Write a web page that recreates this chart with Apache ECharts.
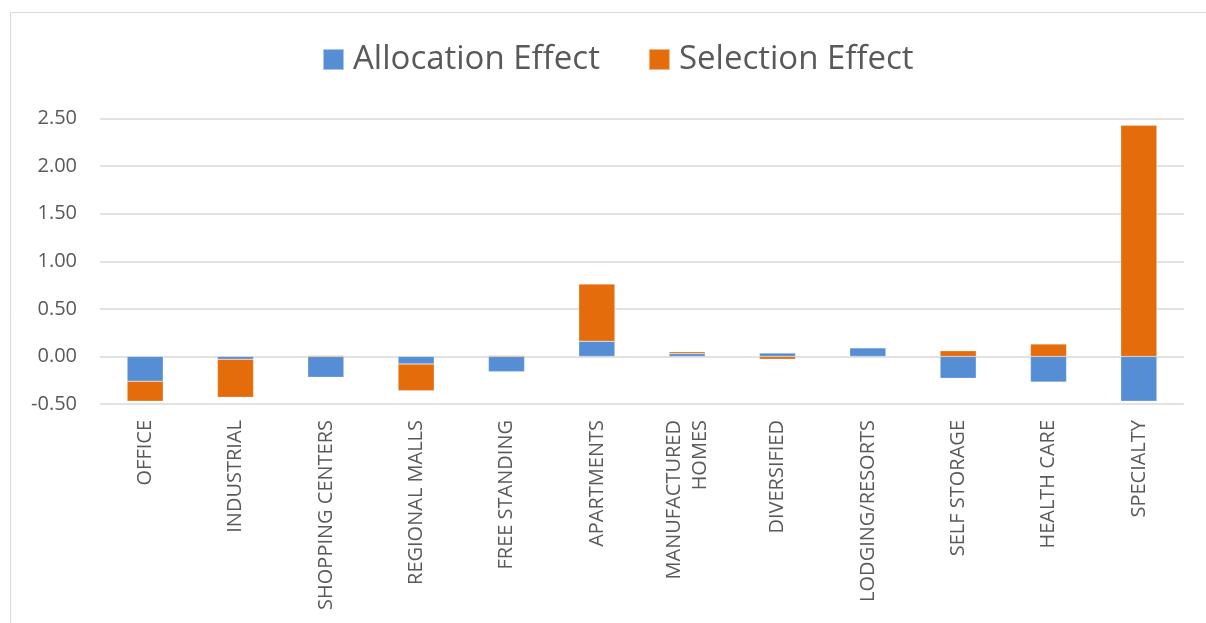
<!DOCTYPE html>
<html>
<head>
<meta charset="utf-8">
<script src="https://cdn.jsdelivr.net/npm/echarts@6/dist/echarts.min.js"></script>
<style>html,body{margin:0;padding:0;background:#fff}#c{width:1206px;height:623px}</style>
</head>
<body>
<div id="c"></div>
<script>
const categories = ['OFFICE','INDUSTRIAL','SHOPPING CENTERS','REGIONAL MALLS','FREE STANDING','APARTMENTS','MANUFACTURED\nHOMES','DIVERSIFIED','LODGING/RESORTS','SELF STORAGE','HEALTH CARE','SPECIALTY'];
const allocationEffect = [-0.26,-0.03,-0.22,-0.08,-0.16,0.16,0.03,0.035,0.09,-0.23,-0.27,-0.47];
const selectionEffect = [-0.21,-0.40,0.01,-0.28,0.01,0.60,0.02,-0.03,0.00,0.06,0.13,2.43];
const seriesNames = ['Allocation Effect','Selection Effect'];

const chart = echarts.init(document.getElementById('c'), null, {renderer:'canvas'});
const txt = '#595959';
const font = "'Open Sans', sans-serif";
chart.setOption({
  animation:false,
  color:['#558ED5','#E46C0A'],
  graphic:[{type:'rect',shape:{x:10.5,y:12.5,width:1300,height:700},style:{fill:'none',stroke:'#D9D9D9',lineWidth:1},silent:true,z:-1}],
  legend:{
    left:322, top:43, padding:0, itemWidth:21, itemHeight:21, itemGap:48,
    icon:'rect',
    textStyle:{color:txt,fontSize:33,fontFamily:font,padding:[0,0,0,4]},
    data:seriesNames
  },
  grid:{left:100,right:22,top:118.5,bottom:219,containLabel:false},
  xAxis:{
    type:'category', data:categories,
    axisLine:{show:false,onZero:false}, axisTick:{show:false},
    axisLabel:{rotate:90,margin:16,color:txt,fontSize:20,fontFamily:font,interval:0,lineHeight:26}
  },
  yAxis:{
    type:'value', min:-0.5, max:2.5, interval:0.5,
    axisLine:{show:false}, axisTick:{show:false},
    splitLine:{lineStyle:{color:'#D9D9D9',width:1.5}},
    axisLabel:{margin:23,color:txt,fontSize:20,fontFamily:font,formatter:v=>v.toFixed(2)}
  },
  series:[
    {name:seriesNames[0],type:'bar',stack:'t',data:allocationEffect,barWidth:'40%',itemStyle:{borderColor:'rgba(255,255,255,0.5)',borderWidth:0.5}},
    {name:seriesNames[1],type:'bar',stack:'t',data:selectionEffect,barWidth:'40%',itemStyle:{borderColor:'rgba(255,255,255,0.5)',borderWidth:0.5}}
  ]
});
</script>
</body>
</html>
